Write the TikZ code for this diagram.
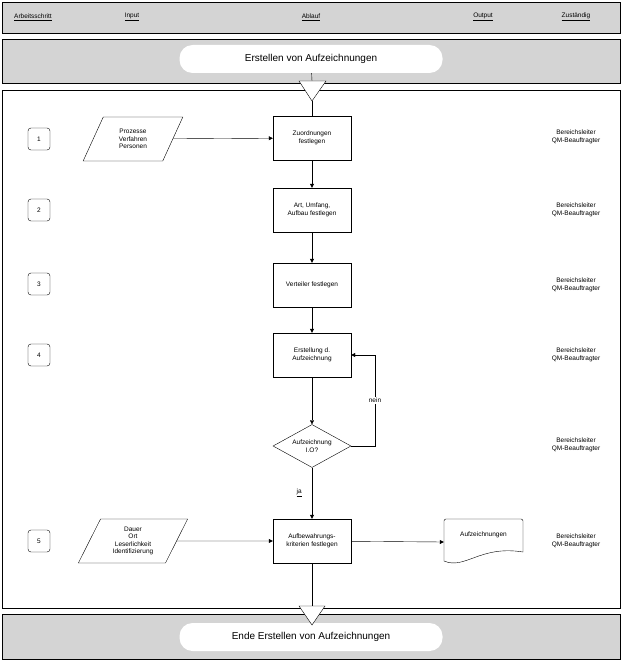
\documentclass[tikz,border=0pt]{standalone}
\usepackage{fontspec}
\setmainfont{Liberation Sans}
\usetikzlibrary{shapes.geometric,arrows.meta}

\begin{document}
\begin{tikzpicture}[x=1pt,y=-1pt,>={Triangle[length=4pt,width=4pt]},
  every node/.style={font=\fontsize{6.5}{7.5}\selectfont,align=center,inner sep=0pt},
  band/.style={draw,fill=black!17},
  pill/.style={fill=white,rounded corners=13pt,minimum width=263pt,minimum height=28pt,font=\fontsize{10}{12}\selectfont},
  stepbox/.style={draw,rounded corners=3pt,minimum size=22pt},
  proc/.style={draw,fill=white,minimum width=78pt,minimum height=44pt},
  io/.style={draw,trapezium,trapezium left angle=64,trapezium right angle=116,trapezium stretches=true,minimum height=44pt},
  dec/.style={draw,diamond,aspect=1.8,minimum width=78pt,minimum height=43pt}]
\useasboundingbox (0,0) rectangle (623,661);
% bands and frame
\draw[band] (2,2) rectangle (620,33);
\draw[band] (2,39) rectangle (620,83);
\draw (2,90) rectangle (620,608);
\draw[band] (2,614) rectangle (620,659);
% header
\node (hstep) at (33,17) {\underline{Arbeitsschritt}};
\node (hin) at (132,17) {\underline{Input}};
\node (hflow) at (311,17) {\underline{Ablauf}};
\node (hout) at (483,17) {\underline{Output}};
\node (hresp) at (576,17) {\underline{Zuständig}};
\node[pill] (start) at (311,59) {Erstellen von Aufzeichnungen};
\node[pill] (end) at (311,637) {Ende Erstellen von Aufzeichnungen};
% steps
\foreach \n/\y in {1/139,2/210,3/284,4/355,5/541}
  \node[stepbox] (s\n) at (39,\y) {\n};
% flow
\node[proc] (p1) at (312,138) {Zuordnungen\\festlegen};
\node[proc] (p2) at (312,210) {Art, Umfang,\\Aufbau festlegen};
\node[proc] (p3) at (312,285) {Verteiler festlegen};
\node[proc] (p4) at (312,355) {Erstellung d.\\Aufzeichnung};
\node[dec] (d1) at (312,446) {Aufzeichnung\\I.O?};
\node[proc] (p5) at (312,541) {Aufbewahrungs-\\kriterien festlegen};
\coordinate (loop) at (375,400);
% input / output
\node[io,minimum width=100pt] (in1) at (133,139) {Prozesse\\Verfahren\\Personen};
\node[io,minimum width=110pt] (in2) at (133,541) {Dauer\\Ort\\Leserlichkeit\\Identifizierung};
\node[minimum width=79pt,minimum height=46pt] (doc) at (483.5,542) {};
\node (doctext) at (483.5,535) {Aufzeichnungen};
\draw[rounded corners=2pt] (444,561) -- (444,519) -- (523,519) -- (523,552);
\draw (444,561) .. controls (465,570) and (480,545) .. (523,552);
% responsible
\foreach \y [count=\i] in {137,210,285,355,445,541}
  \node (r\i) at (576,\y) {Bereichsleiter\\QM-Beauftragter};
% connectors
\coordinate (tin) at (312,81);
\coordinate (tinapex) at (312,101);
\coordinate (tout) at (312,606);
\coordinate (toutapex) at (312,625);
\draw (start) -- (tin);
\draw (tinapex) -- (p1);
\draw[->] (p1) -- (p2);
\draw[->] (p2) -- (p3);
\draw[->] (p3) -- (p4);
\draw[->] (p4) -- (d1);
\draw[->] (d1) -- node[left=10pt] {\underline{ja}} (p5);
\draw[->] (d1.east) -- (d1.east -| loop) -- node[fill=white,inner ysep=1pt] {nein} (p4.east -| loop) -- (p4.east);
\draw[->] (in1) -- (p1);
\draw[->] (in2) -- (p5);
\draw[->] (p5) -- (doc.west);
\draw (p5) -- (tout);
% connector triangles
\draw[fill=white] (299,81) -- (326,81) -- (tinapex) -- cycle;
\draw[fill=white] (299,606) -- (325,606) -- (toutapex) -- cycle;
\end{tikzpicture}
\end{document}
